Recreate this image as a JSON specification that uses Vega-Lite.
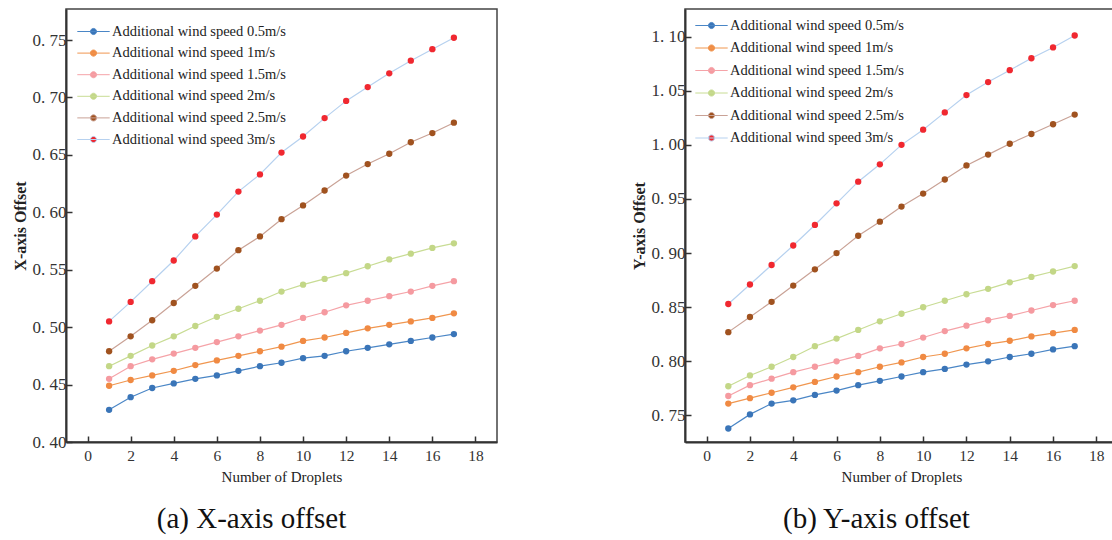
{
  "$schema": "https://vega.github.io/schema/vega-lite/v6.json",
  "background": "white",
  "padding": {"left": 11, "top": 8, "right": 0, "bottom": 0},
  "spacing": 132,
  "config": {
    "font": "Liberation Serif",
    "view": {"stroke": "#444", "strokeWidth": 1.5},
    "axis": {"grid": false, "domainColor": "#333", "domainWidth": 2, "tickColor": "#333", "tickWidth": 1.5, "tickSize": -6, "labelFont": "Liberation Serif", "labelFontSize": 16, "labelColor": "#333", "titleFont": "Liberation Serif", "titleColor": "#222", "titleFontSize": 16},
    "legend": {"labelFont": "Liberation Serif", "labelFontSize": 14.5, "labelColor": "#222", "symbolStrokeWidth": 1, "labelLimit": 0, "labelOffset": 9},
    "title": {"font": "Liberation Serif", "fontSize": 29, "fontWeight": "normal", "color": "#111", "orient": "bottom", "anchor": "middle"}
  },
  "datasets": {
    "xoff": [
      {"n":1,"s":"0.5m/s","v":0.428},{"n":2,"s":"0.5m/s","v":0.439},{"n":3,"s":"0.5m/s","v":0.447},{"n":4,"s":"0.5m/s","v":0.451},{"n":5,"s":"0.5m/s","v":0.455},{"n":6,"s":"0.5m/s","v":0.458},{"n":7,"s":"0.5m/s","v":0.462},{"n":8,"s":"0.5m/s","v":0.466},{"n":9,"s":"0.5m/s","v":0.469},{"n":10,"s":"0.5m/s","v":0.473},{"n":11,"s":"0.5m/s","v":0.475},{"n":12,"s":"0.5m/s","v":0.479},{"n":13,"s":"0.5m/s","v":0.482},{"n":14,"s":"0.5m/s","v":0.485},{"n":15,"s":"0.5m/s","v":0.488},{"n":16,"s":"0.5m/s","v":0.491},{"n":17,"s":"0.5m/s","v":0.494},
      {"n":1,"s":"1m/s","v":0.449},{"n":2,"s":"1m/s","v":0.454},{"n":3,"s":"1m/s","v":0.458},{"n":4,"s":"1m/s","v":0.462},{"n":5,"s":"1m/s","v":0.467},{"n":6,"s":"1m/s","v":0.471},{"n":7,"s":"1m/s","v":0.475},{"n":8,"s":"1m/s","v":0.479},{"n":9,"s":"1m/s","v":0.483},{"n":10,"s":"1m/s","v":0.488},{"n":11,"s":"1m/s","v":0.491},{"n":12,"s":"1m/s","v":0.495},{"n":13,"s":"1m/s","v":0.499},{"n":14,"s":"1m/s","v":0.502},{"n":15,"s":"1m/s","v":0.505},{"n":16,"s":"1m/s","v":0.508},{"n":17,"s":"1m/s","v":0.512},
      {"n":1,"s":"1.5m/s","v":0.455},{"n":2,"s":"1.5m/s","v":0.466},{"n":3,"s":"1.5m/s","v":0.472},{"n":4,"s":"1.5m/s","v":0.477},{"n":5,"s":"1.5m/s","v":0.482},{"n":6,"s":"1.5m/s","v":0.487},{"n":7,"s":"1.5m/s","v":0.492},{"n":8,"s":"1.5m/s","v":0.497},{"n":9,"s":"1.5m/s","v":0.502},{"n":10,"s":"1.5m/s","v":0.508},{"n":11,"s":"1.5m/s","v":0.513},{"n":12,"s":"1.5m/s","v":0.519},{"n":13,"s":"1.5m/s","v":0.523},{"n":14,"s":"1.5m/s","v":0.527},{"n":15,"s":"1.5m/s","v":0.531},{"n":16,"s":"1.5m/s","v":0.536},{"n":17,"s":"1.5m/s","v":0.540},
      {"n":1,"s":"2m/s","v":0.466},{"n":2,"s":"2m/s","v":0.475},{"n":3,"s":"2m/s","v":0.484},{"n":4,"s":"2m/s","v":0.492},{"n":5,"s":"2m/s","v":0.501},{"n":6,"s":"2m/s","v":0.509},{"n":7,"s":"2m/s","v":0.516},{"n":8,"s":"2m/s","v":0.523},{"n":9,"s":"2m/s","v":0.531},{"n":10,"s":"2m/s","v":0.537},{"n":11,"s":"2m/s","v":0.542},{"n":12,"s":"2m/s","v":0.547},{"n":13,"s":"2m/s","v":0.553},{"n":14,"s":"2m/s","v":0.559},{"n":15,"s":"2m/s","v":0.564},{"n":16,"s":"2m/s","v":0.569},{"n":17,"s":"2m/s","v":0.573},
      {"n":1,"s":"2.5m/s","v":0.479},{"n":2,"s":"2.5m/s","v":0.492},{"n":3,"s":"2.5m/s","v":0.506},{"n":4,"s":"2.5m/s","v":0.521},{"n":5,"s":"2.5m/s","v":0.536},{"n":6,"s":"2.5m/s","v":0.551},{"n":7,"s":"2.5m/s","v":0.567},{"n":8,"s":"2.5m/s","v":0.579},{"n":9,"s":"2.5m/s","v":0.594},{"n":10,"s":"2.5m/s","v":0.606},{"n":11,"s":"2.5m/s","v":0.619},{"n":12,"s":"2.5m/s","v":0.632},{"n":13,"s":"2.5m/s","v":0.642},{"n":14,"s":"2.5m/s","v":0.651},{"n":15,"s":"2.5m/s","v":0.661},{"n":16,"s":"2.5m/s","v":0.669},{"n":17,"s":"2.5m/s","v":0.678},
      {"n":1,"s":"3m/s","v":0.505},{"n":2,"s":"3m/s","v":0.522},{"n":3,"s":"3m/s","v":0.540},{"n":4,"s":"3m/s","v":0.558},{"n":5,"s":"3m/s","v":0.579},{"n":6,"s":"3m/s","v":0.598},{"n":7,"s":"3m/s","v":0.618},{"n":8,"s":"3m/s","v":0.633},{"n":9,"s":"3m/s","v":0.652},{"n":10,"s":"3m/s","v":0.666},{"n":11,"s":"3m/s","v":0.682},{"n":12,"s":"3m/s","v":0.697},{"n":13,"s":"3m/s","v":0.709},{"n":14,"s":"3m/s","v":0.721},{"n":15,"s":"3m/s","v":0.732},{"n":16,"s":"3m/s","v":0.742},{"n":17,"s":"3m/s","v":0.752}
    ],
    "yoff": [
      {"n":1,"s":"0.5m/s","v":0.738},{"n":2,"s":"0.5m/s","v":0.751},{"n":3,"s":"0.5m/s","v":0.761},{"n":4,"s":"0.5m/s","v":0.764},{"n":5,"s":"0.5m/s","v":0.769},{"n":6,"s":"0.5m/s","v":0.773},{"n":7,"s":"0.5m/s","v":0.778},{"n":8,"s":"0.5m/s","v":0.782},{"n":9,"s":"0.5m/s","v":0.786},{"n":10,"s":"0.5m/s","v":0.790},{"n":11,"s":"0.5m/s","v":0.793},{"n":12,"s":"0.5m/s","v":0.797},{"n":13,"s":"0.5m/s","v":0.800},{"n":14,"s":"0.5m/s","v":0.804},{"n":15,"s":"0.5m/s","v":0.807},{"n":16,"s":"0.5m/s","v":0.811},{"n":17,"s":"0.5m/s","v":0.814},
      {"n":1,"s":"1m/s","v":0.761},{"n":2,"s":"1m/s","v":0.766},{"n":3,"s":"1m/s","v":0.771},{"n":4,"s":"1m/s","v":0.776},{"n":5,"s":"1m/s","v":0.781},{"n":6,"s":"1m/s","v":0.786},{"n":7,"s":"1m/s","v":0.790},{"n":8,"s":"1m/s","v":0.795},{"n":9,"s":"1m/s","v":0.799},{"n":10,"s":"1m/s","v":0.804},{"n":11,"s":"1m/s","v":0.807},{"n":12,"s":"1m/s","v":0.812},{"n":13,"s":"1m/s","v":0.816},{"n":14,"s":"1m/s","v":0.819},{"n":15,"s":"1m/s","v":0.823},{"n":16,"s":"1m/s","v":0.826},{"n":17,"s":"1m/s","v":0.829},
      {"n":1,"s":"1.5m/s","v":0.768},{"n":2,"s":"1.5m/s","v":0.778},{"n":3,"s":"1.5m/s","v":0.784},{"n":4,"s":"1.5m/s","v":0.790},{"n":5,"s":"1.5m/s","v":0.795},{"n":6,"s":"1.5m/s","v":0.800},{"n":7,"s":"1.5m/s","v":0.805},{"n":8,"s":"1.5m/s","v":0.812},{"n":9,"s":"1.5m/s","v":0.816},{"n":10,"s":"1.5m/s","v":0.822},{"n":11,"s":"1.5m/s","v":0.828},{"n":12,"s":"1.5m/s","v":0.833},{"n":13,"s":"1.5m/s","v":0.838},{"n":14,"s":"1.5m/s","v":0.842},{"n":15,"s":"1.5m/s","v":0.847},{"n":16,"s":"1.5m/s","v":0.852},{"n":17,"s":"1.5m/s","v":0.856},
      {"n":1,"s":"2m/s","v":0.777},{"n":2,"s":"2m/s","v":0.787},{"n":3,"s":"2m/s","v":0.795},{"n":4,"s":"2m/s","v":0.804},{"n":5,"s":"2m/s","v":0.814},{"n":6,"s":"2m/s","v":0.821},{"n":7,"s":"2m/s","v":0.829},{"n":8,"s":"2m/s","v":0.837},{"n":9,"s":"2m/s","v":0.844},{"n":10,"s":"2m/s","v":0.850},{"n":11,"s":"2m/s","v":0.856},{"n":12,"s":"2m/s","v":0.862},{"n":13,"s":"2m/s","v":0.867},{"n":14,"s":"2m/s","v":0.873},{"n":15,"s":"2m/s","v":0.878},{"n":16,"s":"2m/s","v":0.883},{"n":17,"s":"2m/s","v":0.888},
      {"n":1,"s":"2.5m/s","v":0.827},{"n":2,"s":"2.5m/s","v":0.841},{"n":3,"s":"2.5m/s","v":0.855},{"n":4,"s":"2.5m/s","v":0.870},{"n":5,"s":"2.5m/s","v":0.885},{"n":6,"s":"2.5m/s","v":0.900},{"n":7,"s":"2.5m/s","v":0.916},{"n":8,"s":"2.5m/s","v":0.929},{"n":9,"s":"2.5m/s","v":0.943},{"n":10,"s":"2.5m/s","v":0.955},{"n":11,"s":"2.5m/s","v":0.968},{"n":12,"s":"2.5m/s","v":0.981},{"n":13,"s":"2.5m/s","v":0.991},{"n":14,"s":"2.5m/s","v":1.001},{"n":15,"s":"2.5m/s","v":1.010},{"n":16,"s":"2.5m/s","v":1.019},{"n":17,"s":"2.5m/s","v":1.028},
      {"n":1,"s":"3m/s","v":0.853},{"n":2,"s":"3m/s","v":0.871},{"n":3,"s":"3m/s","v":0.889},{"n":4,"s":"3m/s","v":0.907},{"n":5,"s":"3m/s","v":0.926},{"n":6,"s":"3m/s","v":0.946},{"n":7,"s":"3m/s","v":0.966},{"n":8,"s":"3m/s","v":0.982},{"n":9,"s":"3m/s","v":1.000},{"n":10,"s":"3m/s","v":1.014},{"n":11,"s":"3m/s","v":1.030},{"n":12,"s":"3m/s","v":1.046},{"n":13,"s":"3m/s","v":1.058},{"n":14,"s":"3m/s","v":1.069},{"n":15,"s":"3m/s","v":1.080},{"n":16,"s":"3m/s","v":1.090},{"n":17,"s":"3m/s","v":1.101}
    ]
  },
  "resolve": {"scale": {"stroke": "independent", "fill": "independent"}, "legend": {"stroke": "independent", "fill": "independent"}},
  "hconcat": [
    {
      "width": 431, "height": 433,
      "data": {"name": "xoff"},
      "title": {"text": "(a) X-axis offset", "dx": -30, "offset": 20},
      "encoding": {
        "x": {"field": "n", "type": "quantitative", "scale": {"domain": [-1, 19], "nice": false}, "axis": {"values": [0,2,4,6,8,10,12,14,16,18], "title": "Number of Droplets", "titleFontWeight": "normal", "titleFontSize": 15, "labelFontSize": 15.5, "labelPadding": 12, "titlePadding": 6}},
        "y": {"field": "v", "type": "quantitative", "scale": {"domain": [0.40, 0.777], "nice": false, "zero": false}, "axis": {"values": [0.40,0.45,0.50,0.55,0.60,0.65,0.70,0.75], "labelExpr": "replace(format(datum.value, '.2f'), '.', '. ')", "labelFontSize": 17, "title": "X-axis Offset", "titleFontWeight": "bold", "labelPadding": 6, "titlePadding": 4}}
      },
      "layer": [
        {"mark": {"type": "line", "strokeWidth": 1.2},
         "encoding": {"stroke": {"field": "s", "type": "nominal", "scale": {"domain": ["0.5m/s","1m/s","1.5m/s","2m/s","2.5m/s","3m/s"], "range": ["#4a86c6","#f0964f","#f5a3a8","#c8dc94","#c9a296","#b6d1ef"]},
           "legend": {"title": null, "orient": "none", "legendX": 18, "legendY": 13, "rowPadding": 5.6, "symbolType": "M-1.8,0L1.8,0M-0.34,0a0.34,0.34 0 1,0 0.68,0a0.34,0.34 0 1,0 -0.68,0", "symbolSize": 324, "labelExpr": "'Additional wind speed ' + datum.label",
             "encode": {"symbols": {"update": {"fill": {"signal": "datum.value === '0.5m/s' ? '#3a75b8' : datum.value === '1m/s' ? '#f08a43' : datum.value === '1.5m/s' ? '#f59aa0' : datum.value === '2m/s' ? '#c3d787' : datum.value === '2.5m/s' ? '#a0521f' : '#f02830'"}, "fillOpacity": {"value": 1}}}}}}}},
        {"mark": {"type": "point", "filled": true, "size": 40, "opacity": 1},
         "encoding": {"fill": {"field": "s", "type": "nominal", "scale": {"domain": ["0.5m/s","1m/s","1.5m/s","2m/s","2.5m/s","3m/s"], "range": ["#3a75b8","#f08a43","#f59aa0","#c3d787","#a0521f","#f02830"]}, "legend": null}}}
      ]
    },
    {
      "width": 433, "height": 433,
      "data": {"name": "yoff"},
      "title": {"text": "(b) Y-axis offset", "dx": -25, "offset": 20},
      "encoding": {
        "x": {"field": "n", "type": "quantitative", "scale": {"domain": [-1, 19], "nice": false}, "axis": {"values": [0,2,4,6,8,10,12,14,16,18], "title": "Number of Droplets", "titleFontWeight": "normal", "titleFontSize": 15, "labelFontSize": 15.5, "labelPadding": 12, "titlePadding": 6}},
        "y": {"field": "v", "type": "quantitative", "scale": {"domain": [0.7255, 1.1255], "nice": false, "zero": false}, "axis": {"values": [0.75,0.80,0.85,0.90,0.95,1.00,1.05,1.10], "labelExpr": "replace(format(datum.value, '.2f'), '.', '. ')", "labelFontSize": 17, "title": "Y-axis Offset", "titleFontWeight": "bold", "labelPadding": 6, "titlePadding": 4}}
      },
      "layer": [
        {"mark": {"type": "line", "strokeWidth": 1.2},
         "encoding": {"stroke": {"field": "s", "type": "nominal", "scale": {"domain": ["0.5m/s","1m/s","1.5m/s","2m/s","2.5m/s","3m/s"], "range": ["#4a86c6","#f0964f","#f5a3a8","#c8dc94","#c9a296","#b6d1ef"]},
           "legend": {"title": null, "orient": "none", "legendX": 17, "legendY": 7, "rowPadding": 6.5, "symbolType": "M-1.8,0L1.8,0M-0.34,0a0.34,0.34 0 1,0 0.68,0a0.34,0.34 0 1,0 -0.68,0", "symbolSize": 324, "labelExpr": "'Additional wind speed ' + datum.label",
             "encode": {"symbols": {"update": {"fill": {"signal": "datum.value === '0.5m/s' ? '#3a75b8' : datum.value === '1m/s' ? '#f08a43' : datum.value === '1.5m/s' ? '#f59aa0' : datum.value === '2m/s' ? '#c3d787' : datum.value === '2.5m/s' ? '#a0521f' : '#f02830'"}, "fillOpacity": {"value": 1}}}}}}}},
        {"mark": {"type": "point", "filled": true, "size": 40, "opacity": 1},
         "encoding": {"fill": {"field": "s", "type": "nominal", "scale": {"domain": ["0.5m/s","1m/s","1.5m/s","2m/s","2.5m/s","3m/s"], "range": ["#3a75b8","#f08a43","#f59aa0","#c3d787","#a0521f","#f02830"]}, "legend": null}}}
      ]
    }
  ]
}
